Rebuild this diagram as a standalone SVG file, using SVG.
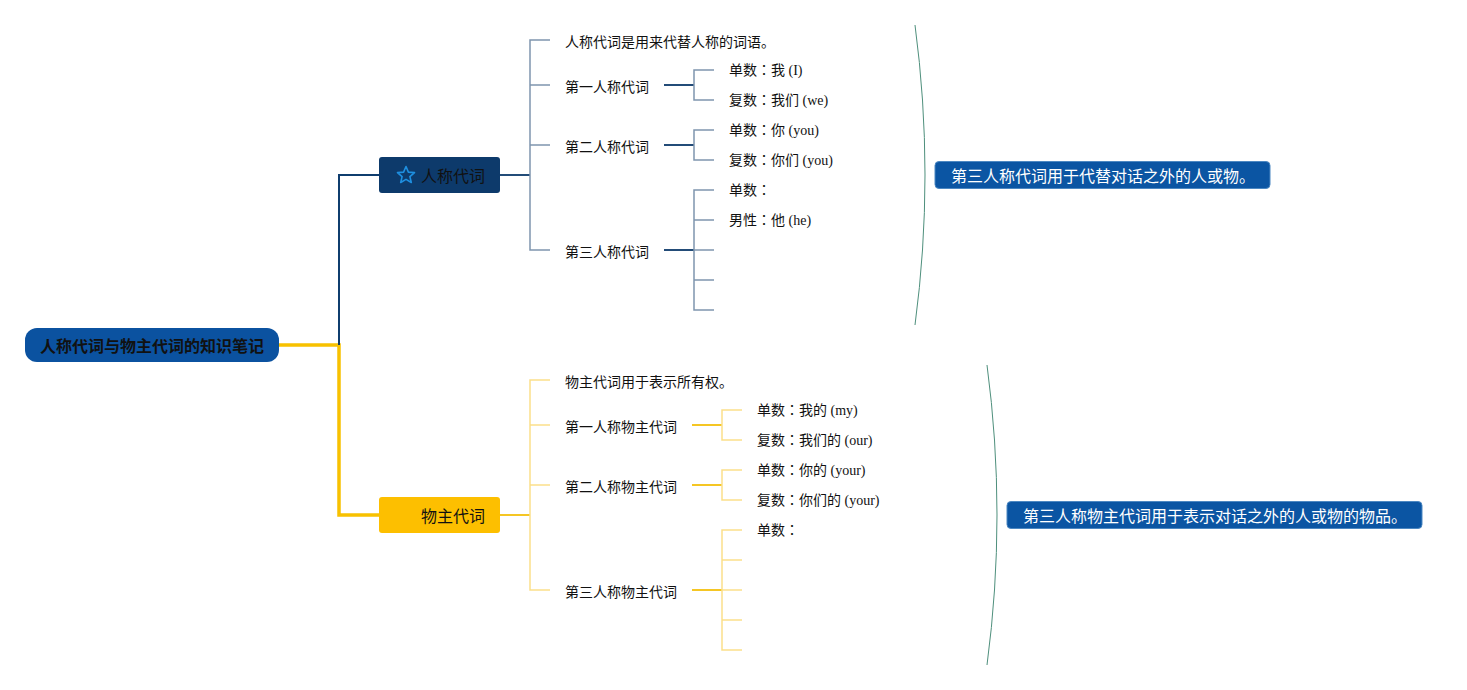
<svg xmlns="http://www.w3.org/2000/svg" width="1467" height="690" viewBox="0 0 1467 690">
<style>
text{font-family:"Noto Sans CJK SC","Liberation Sans",sans-serif;dominant-baseline:central;font-size:14px;fill:#111}
.leaf{font-family:"Liberation Serif","Noto Sans CJK TC",serif}
.root{font-size:16px;font-weight:bold}
.main{font-size:16px}
.note{font-size:16px;fill:#fff}
.bl{fill:none;stroke:#0f3d6e;stroke-width:2}
.bb{fill:none;stroke:#7f95ae;stroke-width:1.5}
.bn{fill:none;stroke:#234c78;stroke-width:2}
.yl{fill:none;stroke:#f8c100;stroke-width:3.5}
.yb{fill:none;stroke:#fbdf8a;stroke-width:1.5}
.yn{fill:none;stroke:#f5c624;stroke-width:2}
.arc{fill:none;stroke:#4e8f7c;stroke-width:1}
</style>
<g id="connectors">
<path class="yl" d="M279,345 H339 V515 H379"/>
<path class="bl" d="M339,345 V175 H379"/>
<path class="bn" d="M500,175 H530"/>
<path class="bb" d="M550,40 H530 V250 H550 M530,85 H550 M530,145 H550"/>
<path class="bn" d="M664,85 H694 M664,145 H694 M664,250 H694"/>
<path class="bb" d="M714,70 H694 V100 H714 M714,130 H694 V160 H714 M714,190 H694 V310 H714 M694,220 H714 M694,250 H714 M694,280 H714"/>
<path class="yn" d="M500,515 H530"/>
<path class="yb" d="M550,380 H530 V590 H550 M530,425 H550 M530,485 H550"/>
<path class="yn" d="M692,425 H722 M692,485 H722 M692,590 H722"/>
<path class="yb" d="M742,410 H722 V440 H742 M742,470 H722 V500 H742 M742,530 H722 V650 H742 M722,560 H742 M722,590 H742 M722,620 H742"/>
<path class="arc" d="M915,25 Q935,175 915,325"/>
<path class="arc" d="M987,365 Q1007,515 987,665"/>
</g>
<g id="root">
<rect x="25" y="328" width="254" height="34" rx="12" fill="#0b52a0"/>
<text class="root" x="152" y="345" text-anchor="middle">人称代词与物主代词的知识笔记</text>
</g>
<g id="personal">
<rect x="379" y="157" width="121" height="36" rx="3" fill="#0d3a6b"/>
<path d="M406,166.5 L408.4,172.1 L414.5,172.6 L409.9,176.6 L411.3,182.5 L406,179.4 L400.7,182.5 L402.1,176.6 L397.5,172.6 L403.6,172.1 Z" fill="none" stroke="#1e8fe0" stroke-width="1.6" stroke-linejoin="round"/>
<text class="main" x="421" y="175">人称代词</text>
</g>
<g id="possessive">
<rect x="379" y="497" width="121" height="36" rx="3" fill="#fdbf00"/>
<text class="main" x="421" y="515">物主代词</text>
</g>
<g id="p-def"><text x="565" y="40.5">人称代词是用来代替人称的词语。</text></g>
<g id="p1"><text x="565" y="85.5">第一人称代词</text></g>
<g id="p1s"><text class="leaf" x="729" y="70.5">单数：我 (I)</text></g>
<g id="p1p"><text class="leaf" x="729" y="100.5">复数：我们 (we)</text></g>
<g id="p2"><text x="565" y="145.5">第二人称代词</text></g>
<g id="p2s"><text class="leaf" x="729" y="130.5">单数：你 (you)</text></g>
<g id="p2p"><text class="leaf" x="729" y="160.5">复数：你们 (you)</text></g>
<g id="p3"><text x="565" y="250.5">第三人称代词</text></g>
<g id="p3s"><text class="leaf" x="729" y="190.5">单数：</text></g>
<g id="p3m"><text class="leaf" x="729" y="220.5">男性：他 (he)</text></g>
<g id="p-note">
<rect x="935" y="161.5" width="335" height="27" rx="4" fill="#0b55a3" stroke="#4d88c2" stroke-width="1"/>
<text class="note" x="951" y="175">第三人称代词用于代替对话之外的人或物。</text>
</g>
<g id="s-def"><text x="565" y="380.5">物主代词用于表示所有权。</text></g>
<g id="s1"><text x="565" y="425.5">第一人称物主代词</text></g>
<g id="s1s"><text class="leaf" x="757" y="410.5">单数：我的 (my)</text></g>
<g id="s1p"><text class="leaf" x="757" y="440.5">复数：我们的 (our)</text></g>
<g id="s2"><text x="565" y="485.5">第二人称物主代词</text></g>
<g id="s2s"><text class="leaf" x="757" y="470.5">单数：你的 (your)</text></g>
<g id="s2p"><text class="leaf" x="757" y="500.5">复数：你们的 (your)</text></g>
<g id="s3"><text x="565" y="590.5">第三人称物主代词</text></g>
<g id="s3s"><text class="leaf" x="757" y="530.5">单数：</text></g>
<g id="s-note">
<rect x="1007" y="501.5" width="415" height="27" rx="4" fill="#0b55a3" stroke="#4d88c2" stroke-width="1"/>
<text class="note" x="1023" y="515">第三人称物主代词用于表示对话之外的人或物的物品。</text>
</g>
</svg>
